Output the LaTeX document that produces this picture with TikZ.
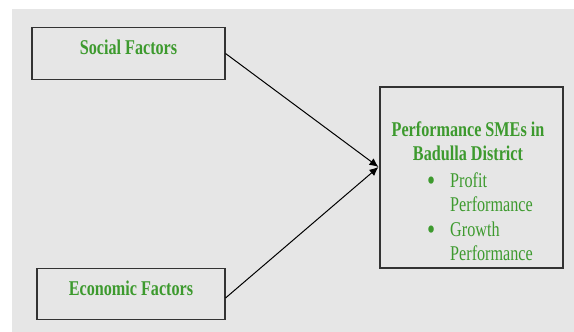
\documentclass[tikz,border=0pt]{standalone}
\usepackage{fontspec}
\newfontfamily\diagfont[FakeStretch=0.77]{Liberation Serif}
\usetikzlibrary{arrows.meta,positioning,calc}
\definecolor{bggray}{HTML}{E6E6E6}
\definecolor{textgreen}{HTML}{3D9A2E}
\definecolor{edgegray}{HTML}{333333}
\newcommand{\bigbullet}{\llap{\raisebox{-3pt}{\fontsize{30}{24.5}\selectfont\textbullet}\hspace{15pt}}}
\tikzset{
	factor/.style={draw=edgegray, line width=1.1pt, minimum width=#1, minimum height=51.6pt, inner sep=0pt, align=center, text=textgreen, font=\diagfont\fontsize{21}{24.5}\selectfont\bfseries, text height=15pt, text depth=12.6pt},
	outcome/.style={draw=edgegray, line width=1.1pt, minimum width=183pt, minimum height=181pt, inner sep=0pt},
	greentext/.style={text=textgreen, font=\diagfont\fontsize{21}{24.5}\selectfont, inner sep=0pt},
	flow/.style={-{Latex[length=9pt, width=8pt]}, draw=black, line width=1pt}
}
\begin{document}
\begin{tikzpicture}[x=1pt, y=1pt]
	\useasboundingbox (0,0) rectangle (574,332);
	\fill[bggray] (12,0) rectangle (574,323);
	\node[factor=193pt] (social) at (128.5,278.5) {Social Factors};
	\node[factor=188pt] (economic) at (131,38) {Economic Factors};
	\node[outcome] (perf) at (471.5,154.5) {};
	\node[greentext, align=center, font=\diagfont\fontsize{21}{24.5}\selectfont\bfseries] (perftitle) at (468,191) {Performance SMEs in\\Badulla District};
	\node[greentext, align=left, anchor=west] (perfitems) at (450,115.5) {\bigbullet Profit\\Performance\\\bigbullet Growth\\Performance};
	\coordinate (hub) at ($(perf.west)+(-1,10.5)$);
	\draw[flow] (social.east) -- (hub);
	\draw[flow] ($(economic.east)+(0,-4)$) -- (hub);
\end{tikzpicture}
\end{document}
